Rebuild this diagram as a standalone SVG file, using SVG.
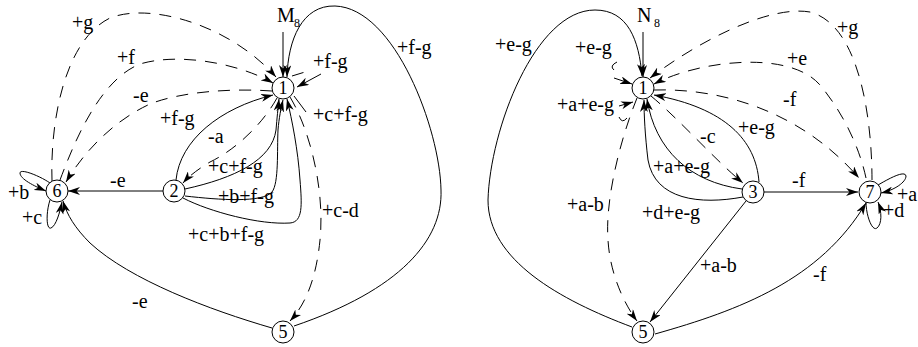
<svg xmlns="http://www.w3.org/2000/svg" width="918" height="347" viewBox="0 0 918 347" font-family="'Liberation Serif', 'DejaVu Serif', serif">
<style>
.e{fill:none;stroke:#000;stroke-width:1}
.d{fill:none;stroke:#000;stroke-width:1;stroke-dasharray:12 9}
.a{marker-end:url(#ah)}
.n{fill:#fff;stroke:#000;stroke-width:1}
text{font-family:'Liberation Serif','DejaVu Serif',serif;font-size:20px;fill:#000}
.nt{font-size:18px;text-anchor:middle}
.sub{font-size:12px}
</style>
<defs>
<marker id="ah" viewBox="0 0 12 8" markerWidth="12" markerHeight="8" refX="12" refY="4" orient="auto" markerUnits="userSpaceOnUse">
<path d="M0,0 L12,4 L0,8 L3.5,4 z" fill="#000"/>
</marker>
</defs>
<rect width="918" height="347" fill="#fff"/>
<g id="connectors">
<path class="e a" d="M283,32 L283,77"/>
<path class="e a" d="M294,326 C400,290 443,240 441,190 C440,130 395,8 335,6 C302,5 288,40 287,77"/>
<path class="d" d="M292,76 L305,72"/>
<path class="e a" d="M321,74 L297,87"/>
<path class="e" d="M294,96 L306,112"/>
<path class="d a" d="M52,181 C50,120 65,40 110,18 C150,2 230,25 276,77"/>
<path class="d a" d="M60,180 C75,140 100,80 140,64 C180,52 240,64 273,83"/>
<path class="d a" d="M272,91 C230,88 180,92 150,104 C115,120 85,150 66,182"/>
<path class="e a" d="M176,180 C180,140 220,108 273,95"/>
<path class="d a" d="M277,98 C262,125 235,150 210,162 C200,168 190,175 183,183"/>
<path class="e a" d="M185,189 C235,178 272,160 276,130 C277,118 278,108 279,99"/>
<path class="e a" d="M185,196 C220,200 262,203 272,192 C279,183 277,150 278,130 C279,118 281,108 283,100"/>
<path class="e a" d="M183,198 C210,212 260,225 290,223 C303,222 302,205 300,180 C298,150 292,120 287,99"/>
<path class="e a" d="M163,191 L68,191"/>
<path class="e a" d="M272,328 C210,310 130,280 90,243 C75,228 67,215 63,201"/>
<path class="d a" d="M290,97 C310,130 325,190 320,240 C316,280 305,305 290,321"/>
<path class="e a" d="M50,183 C40,176 20,168 20,173 C20,179 34,186 46,191"/>
<path class="e a" d="M50,200 C46,212 46,230 51,228 C56,226 60,212 62,202"/>
<path class="e a" d="M643,32 L643,77"/>
<path class="e a" d="M632,327 C560,300 488,260 488,200 C490,130 535,10 595,10 C628,10 639,40 642,76"/>
<path class="e" d="M617,62 Q609,66 614,70"/>
<path class="e a" d="M614,78 L632,84"/>
<path class="e" d="M619,117 Q622,124 627,118"/>
<path class="e a" d="M619,106 L633,102"/>
<path class="d a" d="M872,180 C872,120 860,25 810,12 C770,5 700,40 650,78"/>
<path class="d a" d="M866,178 C860,150 845,115 820,85 C790,50 700,60 654,84"/>
<path class="d a" d="M654,90 C720,88 800,110 859,178"/>
<path class="d a" d="M637,98 C620,140 605,200 608,240 C610,275 625,305 637,321"/>
<path class="d a" d="M651,96 C680,120 715,160 743,183"/>
<path class="e a" d="M759,182 C756,140 725,108 654,95"/>
<path class="e a" d="M742,189 C690,182 655,150 647,99"/>
<path class="e a" d="M743,197 C700,205 655,200 648,160 C645,135 644,115 644,100"/>
<path class="e a" d="M746,201 L650,322"/>
<path class="e a" d="M764,192 L858,192"/>
<path class="e a" d="M655,334 C740,310 820,280 866,203"/>
<path class="e a" d="M878,185 C890,178 905,170 906,176 C906,182 895,190 881,193"/>
<path class="e a" d="M866,202 C866,215 872,232 877,228 C882,224 882,212 878,202"/>
</g>
<g id="edge-labels">
<text x="277" y="22">M</text><text class="sub" x="294" y="27">8</text>
<text x="397" y="54">+f-g</text>
<text x="313" y="68">+f-g</text>
<text x="313" y="121">+c+f-g</text>
<text x="72" y="29">+g</text>
<text x="117" y="64">+f</text>
<text x="133" y="102">-e</text>
<text x="160" y="125">+f-g</text>
<text x="208" y="143">-a</text>
<text x="208" y="173">+c+f-g</text>
<text x="218" y="203">+b+f-g</text>
<text x="188" y="241">+c+b+f-g</text>
<text x="110" y="187">-e</text>
<text x="132" y="308">-e</text>
<text x="322" y="217">+c-d</text>
<text x="8" y="199">+b</text>
<text x="22" y="224">+c</text>
<text x="637" y="22">N</text><text class="sub" x="654" y="27">8</text>
<text x="495" y="51">+e-g</text>
<text x="575" y="54">+e-g</text>
<text x="557" y="111">+a+e-g</text>
<text x="567" y="211">+a-b</text>
<text x="700" y="143">-c</text>
<text x="738" y="134">+e-g</text>
<text x="653" y="173">+a+e-g</text>
<text x="642" y="219">+d+e-g</text>
<text x="792" y="187">-f</text>
<text x="700" y="272">+a-b</text>
<text x="813" y="281">-f</text>
<text x="783" y="106">-f</text>
<text x="787" y="65">+e</text>
<text x="837" y="34">+g</text>
<text x="897" y="201">+a</text>
<text x="883" y="217">+d</text>
</g>
<g id="L1"><circle class="n" cx="283" cy="88" r="11"/><text class="nt" x="283" y="94">1</text></g>
<g id="L2"><circle class="n" cx="174" cy="191" r="11"/><text class="nt" x="174" y="197">2</text></g>
<g id="L5"><circle class="n" cx="283" cy="332" r="11"/><text class="nt" x="283" y="338">5</text></g>
<g id="L6"><circle class="n" cx="57" cy="191" r="11"/><text class="nt" x="57" y="197">6</text></g>
<g id="R1"><circle class="n" cx="643" cy="88" r="11"/><text class="nt" x="643" y="94">1</text></g>
<g id="R3"><circle class="n" cx="753" cy="192" r="11"/><text class="nt" x="753" y="198">3</text></g>
<g id="R5"><circle class="n" cx="643" cy="332" r="11"/><text class="nt" x="643" y="338">5</text></g>
<g id="R7"><circle class="n" cx="870" cy="192" r="11"/><text class="nt" x="870" y="198">7</text></g>
</svg>
